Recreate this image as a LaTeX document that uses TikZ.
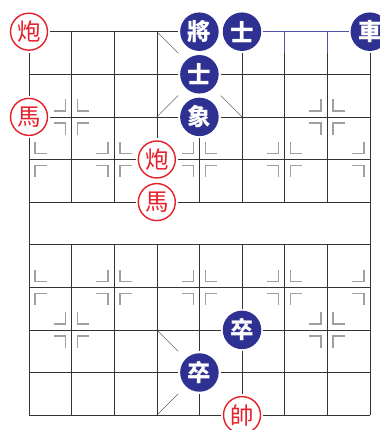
\documentclass[tikz,border=0pt]{standalone}
\usepackage{fontspec}
\usetikzlibrary{backgrounds}
\newfontfamily\cjk{Noto Sans CJK TC}
\definecolor{boardline}{HTML}{333333}
\definecolor{pathblue}{HTML}{5252AE}
\definecolor{markgray}{HTML}{A0A0A0}
\definecolor{piecered}{HTML}{E6202A}
\definecolor{pieceblue}{HTML}{2E3192}
\newcommand{\cell}{42.6pt}
\newcommand{\mgap}{0.141}
\newcommand{\marm}{0.275}
\tikzset{
    redpc/.style={circle, draw=piecered, line width=1.4pt, fill=white, text=piecered,
        minimum size=37pt, inner sep=0pt, font=\cjk\fontsize{23.5}{23.5}\selectfont},
    bluepc/.style={circle, fill=pieceblue, text=white,
        minimum size=38.5pt, inner sep=0pt, font=\cjk\bfseries\fontsize{23.5}{23.5}\selectfont},
    posline/.style={draw=markgray, line width=1.5pt}
}
\newcommand{\rpiece}[4]{%
    \expandafter\gdef\csname occ-#2-#3\endcsname{}%
    \node[redpc] (#1) at (#2,#3) {#4};%
}
\newcommand{\bpiece}[4]{%
    \expandafter\gdef\csname occ-#2-#3\endcsname{}%
    \node[bluepc] (#1) at (#2,#3) {#4};%
}
\newcommand{\halfedges}[3]{%
    \ifcsname occ-#1-#2\endcsname\else
        \pgfmathtruncatemacro{\goup}{(#2>0)&&!((#2==5)&&(#1>0)&&(#1<8))}%
        \pgfmathtruncatemacro{\godown}{(#2<9)&&!((#2==4)&&(#1>0)&&(#1<8))}%
        \ifnum#1>0 \draw[#3] (#1,#2) -- ++(-0.5,0);\fi
        \ifnum#1<8 \draw[#3] (#1,#2) -- ++(0.5,0);\fi
        \ifnum\goup=1 \draw[#3] (#1,#2) -- ++(0,-0.5);\fi
        \ifnum\godown=1 \draw[#3] (#1,#2) -- ++(0,0.5);\fi
    \fi
}
\newcommand{\diag}[4]{%
    \ifcsname occ-#1-#2\endcsname\else
        \draw[boardline] (#1,#2) -- ++(#3,#4);%
    \fi
}
\newcommand{\posmark}[2]{%
    \ifnum#1>0
        \draw[posline] (#1,#2) ++(-\mgap-\marm,-\mgap) -- ++(\marm,0) -- ++(0,-\marm);
        \draw[posline] (#1,#2) ++(-\mgap-\marm,\mgap) -- ++(\marm,0) -- ++(0,\marm);
    \fi
    \ifnum#1<8
        \draw[posline] (#1,#2) ++(\mgap+\marm,-\mgap) -- ++(-\marm,0) -- ++(0,-\marm);
        \draw[posline] (#1,#2) ++(\mgap+\marm,\mgap) -- ++(-\marm,0) -- ++(0,\marm);
    \fi
}

\begin{document}
\begin{tikzpicture}[x=\cell, y=-\cell, line width=1.8pt, line cap=rect]
    \useasboundingbox (-0.681,-0.744) rectangle (8.216,9.350);

    % --- Black side ---
    \bpiece{bgeneral}{4}{0}{將}
    \bpiece{bguardA}{5}{0}{士}
    \bpiece{bchariot}{8}{0}{車}
    \bpiece{bguardB}{4}{1}{士}
    \bpiece{belephant}{4}{2}{象}
    \bpiece{bsoldierA}{5}{7}{卒}
    \bpiece{bsoldierB}{4}{8}{卒}

    % --- Red side ---
    \rpiece{rcannonA}{0}{0}{炮}
    \rpiece{rhorseA}{0}{2}{馬}
    \rpiece{rcannonB}{3}{3}{炮}
    \rpiece{rhorseB}{3}{4}{馬}
    \rpiece{rmarshal}{5}{9}{帥}

    \begin{pgfonlayer}{background}
        % Board lines: half an edge out of every empty point
        \foreach \c in {0,...,8}
            \foreach \r in {0,...,9} {
                \pgfmathtruncatemacro{\hot}{(\r==0)&&(\c>5)&&(\c<8)}
                \ifnum\hot=1 \def\lc{pathblue}\else\def\lc{boardline}\fi
                \halfedges{\c}{\r}{\lc}
            }

        % Palace diagonals
        \foreach \top in {0,7} {
            \pgfmathtruncatemacro{\mid}{\top+1}
            \pgfmathtruncatemacro{\bot}{\top+2}
            \diag{3}{\top}{0.5}{0.5}
            \diag{5}{\top}{-0.5}{0.5}
            \diag{3}{\bot}{0.5}{-0.5}
            \diag{5}{\bot}{-0.5}{-0.5}
            \diag{4}{\mid}{0.5}{0.5}
            \diag{4}{\mid}{-0.5}{0.5}
            \diag{4}{\mid}{0.5}{-0.5}
            \diag{4}{\mid}{-0.5}{-0.5}
        }

        % Cannon and soldier points
        \foreach \c/\r in {1/2,7/2,1/7,7/7}
            {\posmark{\c}{\r}}
        \foreach \c in {0,2,...,8} {
            \posmark{\c}{3}
            \posmark{\c}{6}
        }
    \end{pgfonlayer}
\end{tikzpicture}
\end{document}
